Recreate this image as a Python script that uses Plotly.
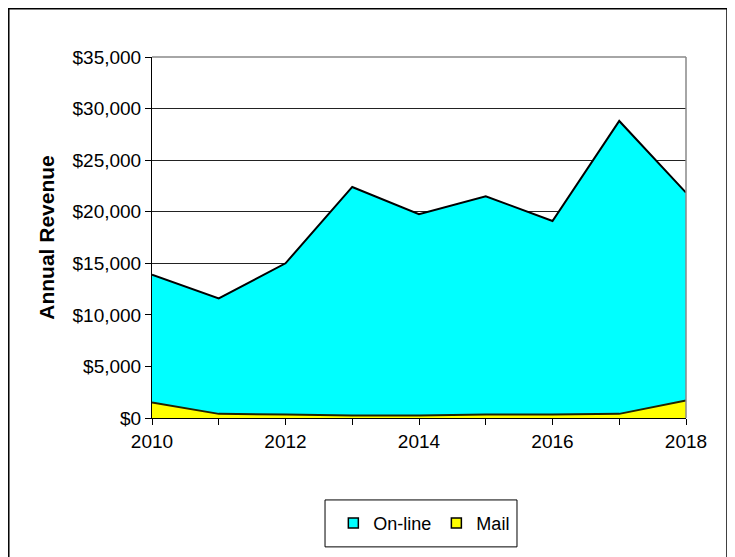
import plotly.graph_objects as go

# data
years = [2010, 2011, 2012, 2013, 2014, 2015, 2016, 2017, 2018]
mail = [1500, 400, 350, 250, 250, 350, 350, 400, 1700]
total = [13900, 11600, 15000, 22400, 19750, 21500, 19100, 28800, 21850]
online = [t - m for t, m in zip(total, mail)]

font_name = "Liberation Sans, Arial, sans-serif"
CYAN = "#00FFFF"
YELLOW = "#FFFF00"

fig = go.Figure()
fig.add_trace(go.Scatter(x=years, y=mail, name="Mail", stackgroup="rev",
                         mode="lines", line=dict(color="#222200", width=2),
                         fillcolor=YELLOW, showlegend=False))
fig.add_trace(go.Scatter(x=years, y=online, name="On-line", stackgroup="rev",
                         mode="lines", line=dict(color="black", width=2),
                         fillcolor=CYAN, showlegend=False))
# legend entries as small boxed squares
for nm, col in [("On-line", CYAN), ("Mail", YELLOW)]:
    fig.add_trace(go.Scatter(x=[None], y=[None], name=nm, mode="markers",
                             marker=dict(symbol="square", size=10, color=col,
                                         line=dict(color="black", width=1.5))))

# outer frame of the chart
fig.add_shape(type="rect", xref="paper", yref="paper",
              x0=-0.2682, x1=1.0768, y0=-0.42, y1=1.134,
              line=dict(color="black", width=1.5), layer="below")
# legend frame
fig.add_shape(type="rect", xref="paper", yref="paper",
              x0=0.324, x1=0.6835, y0=-0.357, y1=-0.227,
              line=dict(color="black", width=1), layer="below")
# gray right / top edge of plot area
fig.add_shape(type="line", xref="paper", yref="paper", x0=1, x1=1, y0=0, y1=1,
              line=dict(color="#888888", width=1.5))
fig.add_shape(type="line", xref="paper", yref="paper", x0=0, x1=1, y0=1, y1=1,
              line=dict(color="#888888", width=1.5))

fig.update_layout(
    width=735, height=557,
    margin=dict(l=144, r=57, t=49, b=147),
    paper_bgcolor="white", plot_bgcolor="white",
    showlegend=True,
    font=dict(family=font_name, color="black", size=19),
    legend=dict(orientation="h", x=0.51, xanchor="center", y=-0.292, yanchor="middle",
                traceorder="normal", borderwidth=0, font=dict(size=18), itemwidth=30,
                bgcolor="rgba(0,0,0,0)"),
    xaxis=dict(range=[2010, 2018], tickmode="array",
               tickvals=years, ticktext=[str(y) if y % 2 == 0 else "" for y in years],
               ticks="outside", ticklen=6, tickcolor="black",
               showline=True, linecolor="black", linewidth=1, showgrid=False,
               zeroline=False, tickfont=dict(size=19)),
    yaxis=dict(range=[0, 35000], dtick=5000, tickprefix="$", tickformat=",d",
               ticks="outside", ticklen=6, tickcolor="black",
               showline=True, linecolor="black", linewidth=1, mirror=False,
               showgrid=True, gridcolor="#222222", gridwidth=1, zeroline=False,
               tickfont=dict(size=19),
               title=dict(text="<b>Annual Revenue</b>", font=dict(size=21),
                          standoff=12)),
)

fig.write_html("out.html")
